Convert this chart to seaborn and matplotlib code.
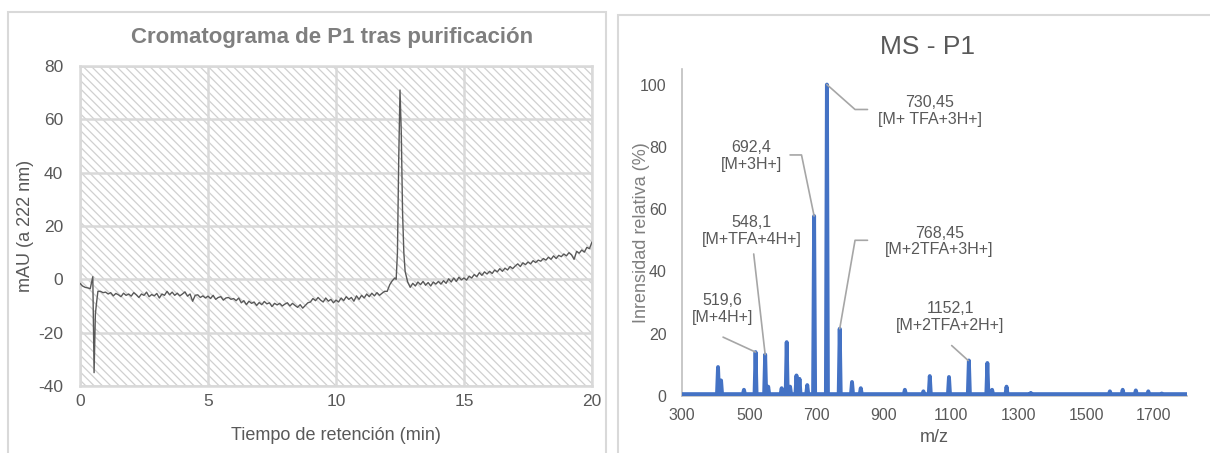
import numpy as np
import pandas as pd
import seaborn as sns
import matplotlib
matplotlib.use("Agg")
import matplotlib.pyplot as plt
from matplotlib.patches import Rectangle

# ---- chromatogram (HPLC, 222 nm) ----
t_grid = np.round(np.arange(0, 20.05, 0.1), 1)
mau_grid = [
    -1.5, -2.5, -3.0, -3.2, -3.5, 1.0, -13.0, -4.5, -4.5, -5.0,
    -4.8, -5.5, -5.0, -6.2, -5.3, -5.8, -6.5, -5.2, -6.0, -5.5,
    -6.3, -5.0, -5.8, -6.8, -5.5, -6.0, -4.8, -6.5, -5.7, -6.2,
    -5.3, -7.0, -5.5, -6.0, -4.5, -5.8, -4.8, -6.0, -5.2, -6.2,
    -5.5, -4.7, -6.3, -5.5, -8.2, -6.0, -5.8, -6.8, -6.2, -7.0,
    -6.3, -7.2, -6.0, -7.5, -6.8, -6.5, -7.8, -7.0, -6.8, -7.5,
    -7.2, -8.0, -7.0, -8.8, -8.0, -9.5, -8.2, -9.0, -8.5, -9.8,
    -8.7, -9.5, -8.3, -9.2, -8.8, -10.2, -9.0, -9.6, -9.0, -10.0,
    -9.3, -8.8, -10.0, -9.0, -9.8, -10.5, -9.5, -10.8, -9.8, -8.8,
    -8.5, -7.2, -8.0, -6.8, -7.8, -8.5, -7.0, -8.2, -7.5, -8.8,
    -7.8, -8.5, -7.0, -8.0, -6.5, -7.5, -6.8, -8.2, -6.2, -7.5,
    -6.0, -7.0, -5.5, -6.5, -5.2, -6.2, -5.0, -6.0, -5.2, -4.5,
    -4.5, -2.0, -0.5, 0.5, 10.0, 71.0, 25.0, 3.0, -1.0, -3.0,
    -1.5, -2.5, -1.0, -2.0, -0.8, -2.2, -1.2, -2.5, -1.0, -1.8,
    -0.8, -1.8, -0.5, -1.5, 0.2, -1.0, 0.5, -0.8, 0.8, -0.2,
    0.5, -0.3, 1.2, 0.5, 1.8, 1.0, 2.5, 1.5, 2.8, 2.0,
    3.0, 2.2, 3.5, 2.8, 4.0, 3.0, 4.2, 3.5, 4.8, 4.0,
    5.0, 5.8, 4.8, 6.2, 5.5, 6.5, 5.8, 7.0, 6.3, 7.2,
    6.8, 7.8, 7.2, 8.3, 7.5, 8.8, 7.8, 9.0, 8.5, 9.5,
    8.8, 10.0, 9.2, 7.5, 10.5, 9.8, 11.0, 10.2, 12.0, 11.5,
    14.0,
]
# extra points on the two sharp features
t_extra = [0.55, 0.65, 12.35, 12.45, 12.55, 12.65]
mau_extra = [-35.0, -8.5, 0.0, 45.0, 55.0, 10.0]

# ---- mass spectrum peaks ----
peak_mz = [407, 416, 484, 518.5, 547, 556, 596, 611, 621, 640, 649, 672,
           692.4, 730.45, 768.45, 805, 831, 962, 1017, 1036, 1093, 1152.1,
           1207, 1221, 1264, 1336, 1571, 1609, 1648, 1685, 1725]
peak_int = [9.3, 5.0, 2.0, 14.1, 13.3, 3.0, 2.5, 17.3, 3.0, 6.6, 5.5, 3.5,
            57.8, 100.0, 21.6, 4.5, 2.5, 2.0, 1.5, 6.4, 6.1, 11.4,
            10.6, 2.0, 3.0, 1.0, 1.5, 2.0, 1.8, 1.5, 0.8]
baseline = 0.6

labels_ms = ["519,6\n[M+4H+]", "548,1\n[M+TFA+4H+]", "692,4\n[M+3H+]",
             "730,45\n[M+ TFA+3H+]", "768,45\n[M+2TFA+3H+]", "1152,1\n[M+2TFA+2H+]"]

TXT = "#595959"
GRID = "#d9d9d9"

sns.set_theme(style="white")
plt.rcParams["font.family"] = ["Liberation Sans", "DejaVu Sans"]
plt.rcParams["hatch.linewidth"] = 0.9
plt.rcParams["axes.unicode_minus"] = False

fig = plt.figure(figsize=(12.1, 4.53), dpi=100)
W, H = 1210, 453

# panel borders
fig.add_artist(Rectangle((8 / W, -0.1), (606 - 8) / W, 1.1 - 12 / H,
                         transform=fig.transFigure, fill=False, ec=GRID, lw=1.5))
fig.add_artist(Rectangle((618 / W, -0.1), 1.0, 1.1 - 15 / H,
                         transform=fig.transFigure, fill=False, ec=GRID, lw=1.5))

# ---------- left: chromatogram ----------
ax1 = fig.add_axes([80 / W, 1 - 386 / H, 512 / W, 320 / H])
chrom = pd.DataFrame({"t": np.concatenate([t_grid, t_extra]),
                      "mau": np.concatenate([mau_grid, mau_extra])}).sort_values("t")
ax1.patch.set_visible(False)
ax1.add_patch(Rectangle((0, 0), 1, 1, transform=ax1.transAxes, facecolor="white",
                        edgecolor="#d0d0d0", hatch="\\\\\\\\", lw=0, zorder=0))
sns.lineplot(data=chrom, x="t", y="mau", ax=ax1, color="#595959", lw=1.0,
             sort=False, zorder=3)
ax1.set_xlim(0, 20)
ax1.set_ylim(-40, 80)
ax1.set_xticks(range(0, 21, 5))
ax1.set_yticks(range(-40, 81, 20))
ax1.grid(True, color=GRID, lw=1.8, zorder=1)
ax1.set_axisbelow(False)
for s in ax1.spines.values():
    s.set_color(GRID)
    s.set_linewidth(1.8)
ax1.tick_params(axis="both", length=0, labelsize=12.5, colors=TXT)
ax1.tick_params(axis="y", pad=12)
ax1.tick_params(axis="x", pad=6)
ax1.set_xlabel("Tiempo de retención (min)", fontsize=13, color=TXT)
ax1.set_ylabel("mAU (a 222 nm)", fontsize=13, color=TXT)
ax1.xaxis.set_label_coords(0.5, -0.128)
ax1.yaxis.set_label_coords(-0.09, 0.5)
fig.text(332 / W, 1 - 37 / H, "Cromatograma de P1 tras purificación",
         ha="center", va="center", fontsize=16, fontweight="bold", color="#7f7f7f")

# ---------- right: mass spectrum ----------
ax2 = fig.add_axes([682 / W, 1 - 396 / H, 505 / W, 327 / H])
mz_prof, int_prof = [300], [baseline]
for m, h in zip(peak_mz, peak_int):
    mz_prof += [m - 3, m, m + 3]
    int_prof += [baseline, h, baseline]
mz_prof.append(1800)
int_prof.append(baseline)
spec = pd.DataFrame({"mz": mz_prof, "rel": int_prof})
sns.lineplot(data=spec, x="mz", y="rel", ax=ax2, color="#4472C4", lw=2.8,
             sort=False, zorder=3)
ax2.set_xlim(300, 1800)
ax2.set_ylim(0, 105)
ax2.set_xticks(range(300, 1701, 200))
ax2.set_yticks(range(0, 101, 20))
for side in ["top", "right"]:
    ax2.spines[side].set_visible(False)
for side in ["left", "bottom"]:
    ax2.spines[side].set_color("#bfbfbf")
    ax2.spines[side].set_linewidth(1.2)
ax2.tick_params(axis="both", length=0, labelsize=11.5, colors=TXT)
ax2.tick_params(axis="y", pad=11)
ax2.tick_params(axis="x", pad=9)
ax2.set_xlabel("m/z", fontsize=13, color=TXT)
ax2.set_ylabel("Inrensidad relativa (%)", fontsize=13, color="#7f7f7f")
ax2.xaxis.set_label_coords(0.5, -0.10)
ax2.yaxis.set_label_coords(-0.063, 0.5)
fig.text(927 / W, 1 - 47 / H, "MS - P1", ha="center", va="center",
         fontsize=19, color=TXT)

# label text positions (m/z, %) and leader lines
lab_pos = [(419, 28), (507, 53), (505, 77), (1036, 91.5), (1065, 49.6), (1097, 25.3)]
leaders = [
    ([422, 518.5], [18.9, 14.1]),
    ([513, 547], [45.6, 13.3]),
    ([621, 655, 692.4], [77.4, 77.4, 57.8]),
    ([730.45, 814, 851], [100, 92, 92]),
    ([851, 814, 768.45], [50, 50, 21.6]),
    ([1101, 1150], [16.2, 11.4]),
]
for (x, y), txt in zip(lab_pos, labels_ms):
    ax2.text(x, y, txt, ha="center", va="center", fontsize=11.5, color=TXT,
             linespacing=1.15, zorder=5)
for xs, ys in leaders:
    ax2.plot(xs, ys, color="#a6a6a6", lw=1.2, zorder=4)

fig.savefig("out.png", dpi=100)
